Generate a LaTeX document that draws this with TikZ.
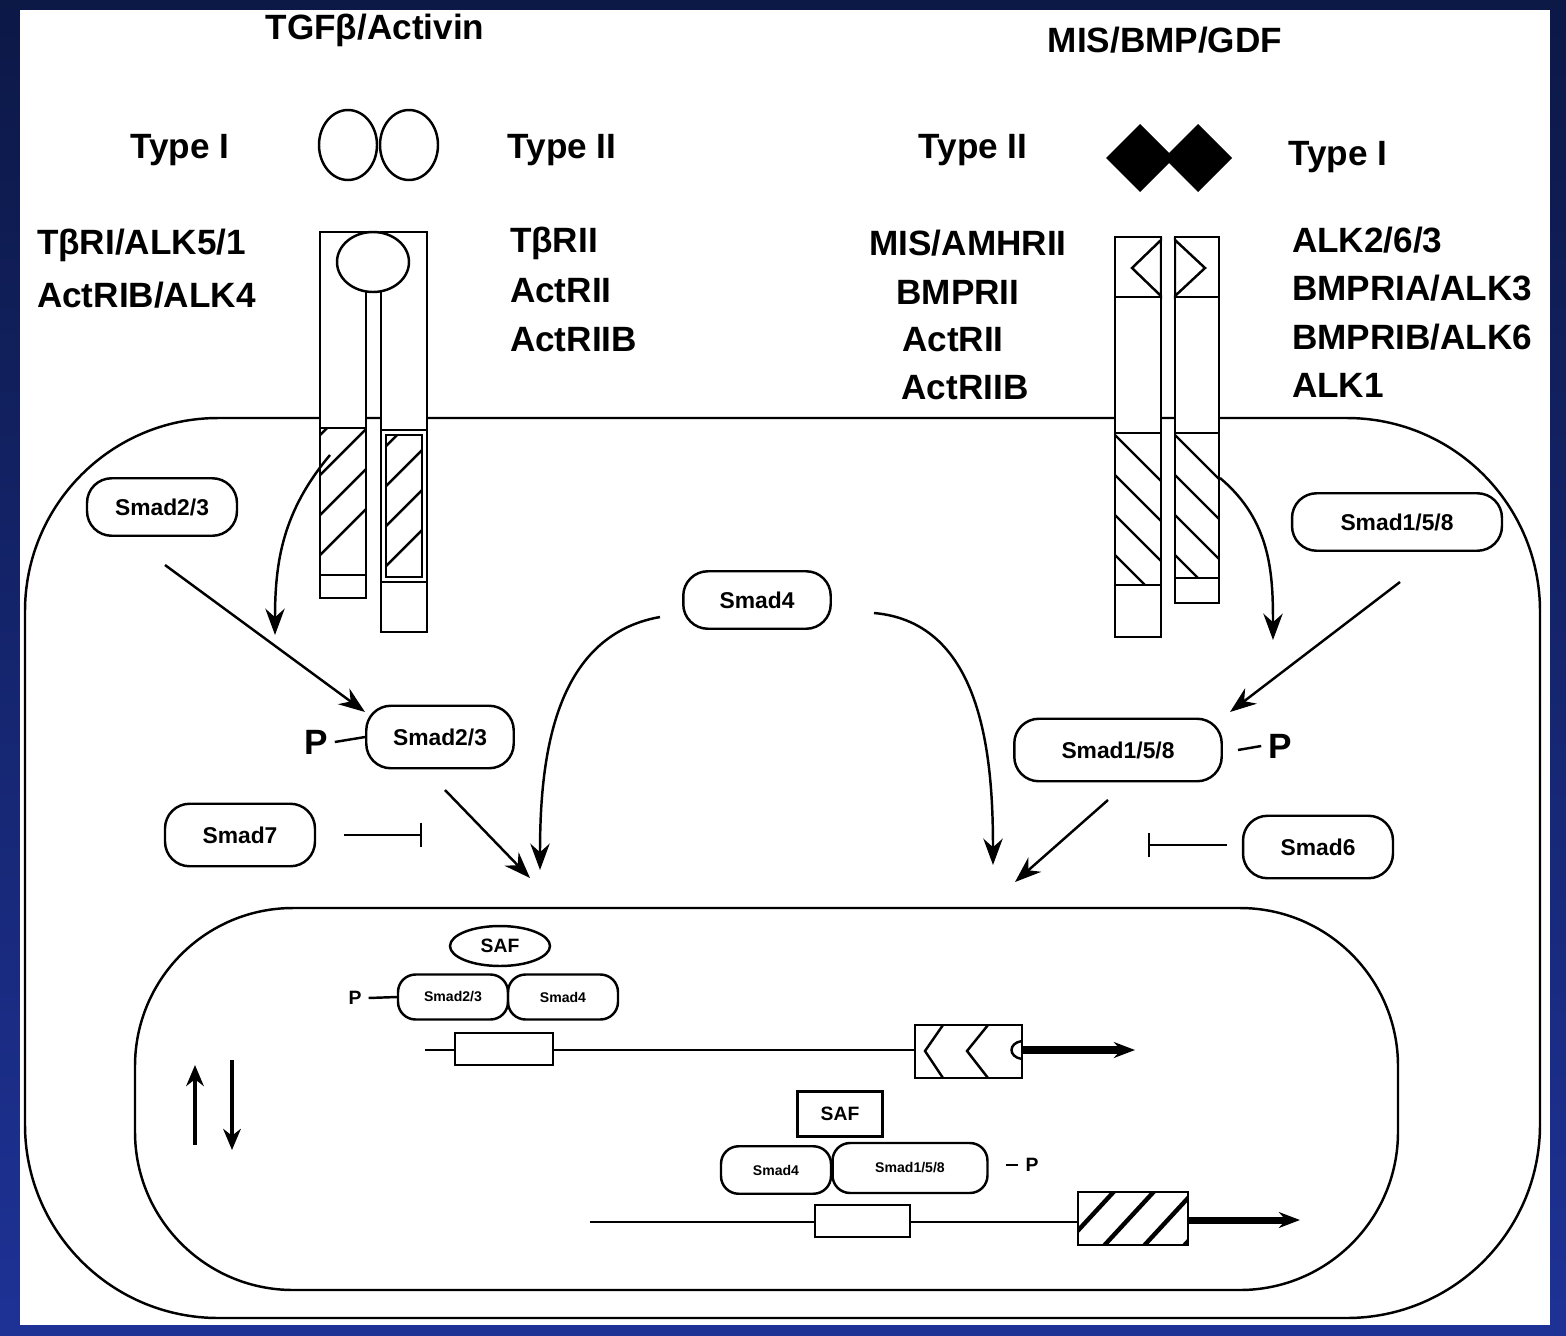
\documentclass[tikz,border=0pt]{standalone}
\usepackage{fontspec}
\setmainfont{Liberation Sans}
\usetikzlibrary{arrows.meta,calc,shapes.geometric}
\definecolor{navytop}{RGB}{12,24,70}
\definecolor{navybot}{RGB}{30,50,150}
\tikzset{
  every picture/.style={line width=1.4pt},
  lbl/.style={font=\fontsize{20}{22}\selectfont\bfseries},
  smad/.style={draw,rounded corners=14pt,font=\fontsize{13}{15}\selectfont\bfseries,minimum height=1.15cm,inner xsep=2pt},
  smads/.style={draw,rounded corners=10pt,font=\fontsize{8}{9}\selectfont\bfseries,minimum height=0.9cm,inner xsep=1pt},
  recp/.style={draw,fill=white},
  arr/.style={-{Stealth[length=15pt,width=11pt]}},
  inh/.style={-{Bar[width=14pt]}},
  big/.style={-{Stealth[length=12pt,width=9pt]},line width=4pt},
}
\begin{document}
\begin{tikzpicture}[x=0.02cm,y=-0.02cm]
\useasboundingbox (0,0) rectangle (1566,1336);
\shade[top color=navytop,bottom color=navybot] (0,0) rectangle (1566,1336);
\fill[white] (20,10) rectangle (1550,1325);
% cell and nucleus
\draw[rounded corners=110] (25,418) rectangle (1540,1318);
\draw[rounded corners=90] (135,908) rectangle (1398,1290);
% headings
\node[lbl] (tgf) at (375,30) {TGFβ/Activin};
\node[lbl] (mis) at (1165,40) {MIS/BMP/GDF};
\node[lbl] (t1l) at (180,150) {Type I};
\node[lbl] (t2l) at (562,150) {Type II};
\node[lbl] (t2r) at (973,150) {Type II};
\node[lbl] (t1r) at (1338,157) {Type I};
% ligands
\draw (348,145) ellipse (29 and 35);
\draw (409,145) ellipse (29 and 35);
\fill (1106,158) -- (1140,124) -- (1174,158) -- (1140,192) -- cycle;
\fill (1164,158) -- (1198,124) -- (1232,158) -- (1198,192) -- cycle;
% receptor labels
\node[lbl,anchor=west] (a1) at (30,245) {TβRI/ALK5/1};
\node[lbl,anchor=west] (a2) at (30,295) {ActRIB/ALK4};
\node[lbl,anchor=west] (b1) at (503,243) {TβRII};
\node[lbl,anchor=west] (b2) at (503,291) {ActRII};
\node[lbl,anchor=west] (b3) at (503,340) {ActRIIB};
\node[lbl] (c1) at (968,243) {MIS/AMHRII};
\node[lbl] (c2) at (958,292) {BMPRII};
\node[lbl] (c3) at (953,340) {ActRII};
\node[lbl] (c4) at (965,388) {ActRIIB};
\node[lbl,anchor=west] (d1) at (1285,240) {ALK2/6/3};
\node[lbl,anchor=west] (d2) at (1285,288) {BMPRIA/ALK3};
\node[lbl,anchor=west] (d3) at (1285,337) {BMPRIB/ALK6};
\node[lbl,anchor=west] (d4) at (1285,385) {ALK1};
% left receptors
\draw[recp] (320,232) rectangle (366,598);
\draw[recp] (381,232) rectangle (427,632);
\draw (320,428) -- (366,428) (320,575) -- (366,575);
\draw (381,430) -- (427,430) (381,582) -- (427,582);
\begin{scope}
\clip (320,428) rectangle (366,575);
\foreach \i in {0,40,...,240} \draw (300,575-\i) -- (380,495-\i);
\end{scope}
\begin{scope}
\clip (386,435) rectangle (422,577);
\foreach \i in {0,40,...,240} \draw (370,582-\i) -- (450,502-\i);
\end{scope}
\draw (386,435) rectangle (422,577);
\draw[fill=white] (373,262) ellipse (36 and 30);
% right receptors
\draw[recp] (1115,237) rectangle (1161,637);
\draw[recp] (1175,237) rectangle (1219,603);
\draw[fill=white] (1161,240) -- (1132,268) -- (1161,296) -- cycle;
\draw[fill=white] (1175,240) -- (1205,268) -- (1175,296) -- cycle;
\fill[white] (1162,241) rectangle (1174,295);
\draw (1115,297) -- (1161,297) (1175,297) -- (1219,297);
\draw (1115,433) -- (1161,433) (1115,585) -- (1161,585);
\draw (1175,433) -- (1219,433) (1175,578) -- (1219,578);
\begin{scope}
\clip (1115,433) rectangle (1161,585);
\foreach \i in {0,40,...,240} \draw (1100,420+\i) -- (1180,500+\i);
\end{scope}
\begin{scope}
\clip (1175,433) rectangle (1219,578);
\foreach \i in {0,40,...,240} \draw (1160,420+\i) -- (1240,500+\i);
\end{scope}
% Smads
\node[smad,minimum width=3cm] (s23a) at (162,507) {Smad2/3};
\node[smad,minimum width=4.2cm] (s158a) at (1397,522) {Smad1/5/8};
\node[smad,minimum width=2.95cm] (s4) at (757,600) {Smad4};
\node[smad,minimum width=2.95cm,minimum height=1.25cm] (s23p) at (440,737) {Smad2/3};
\node[lbl] (p1) at (316,742) {P};
\draw (p1.east) -- (s23p.west);
\node[smad,minimum width=4.15cm,minimum height=1.25cm] (s158p) at (1118,750) {Smad1/5/8};
\node[lbl] (p2) at (1280,746) {P};
\draw (s158p.east) ++(15,0) -- (p2.west);
\node[smad,minimum width=3cm,minimum height=1.25cm] (s7) at (240,835) {Smad7};
\node[smad,minimum width=3cm,minimum height=1.25cm] (s6) at (1318,847) {Smad6};
\coordinate (i7) at (422,835);
\coordinate (i6) at (1148,845);
\draw[inh] ($(s7.east)+(28,0)$) -- (i7);
\draw[inh] ($(s6.west)+(-15,-2)$) -- (i6);
% arrows
\coordinate (tl) at (275,635);
\coordinate (tr) at (1273,640);
\coordinate (n1) at (365,712);
\coordinate (n2) at (1230,712);
\coordinate (nl) at (530,878);
\coordinate (nl2) at (540,870);
\coordinate (nr) at (993,865);
\coordinate (nr2) at (1015,882);
\draw[arr] (330,455) to[out=230,in=90] (tl);
\draw[arr] (1220,478) to[out=-40,in=90] (tr);
\draw[arr] (165,565) -- (n1);
\draw[arr] (1400,582) -- (n2);
\draw[arr] (445,790) -- (nl);
\draw[arr] (1108,800) -- (nr2);
\draw[arr] ($(s4.west)+(-22,17)$) to[out=190,in=90] (nl2);
\draw[arr] ($(s4.east)+(42,13)$) to[out=-5,in=90] (nr);
% nucleus contents upper gene
\node[draw,ellipse,minimum width=2cm,minimum height=0.8cm,font=\fontsize{11}{12}\selectfont\bfseries] (saf1) at (500,946) {SAF};
\node[smads,minimum width=2.2cm] (n23) at (453,997) {Smad2/3};
\node[smads,minimum width=2.2cm] (n4) at (563,997) {Smad4};
\node[font=\fontsize{11}{12}\selectfont\bfseries] (p3) at (355,998) {P};
\draw (p3.east) -- (n23.west);
\draw (425,1050) -- (915,1050);
\draw[fill=white] (455,1033) rectangle (553,1065);
\draw (915,1025) rectangle (1022,1078);
\draw (943,1025) -- (925,1051) -- (943,1078) (988,1025) -- (967,1051) -- (988,1078);
\draw (1022,1041) .. controls (1008,1043) and (1008,1057) .. (1022,1059);
\coordinate (g1) at (1135,1050);
\draw[big] (1022,1050) -- (g1);
% up/down
\coordinate (u1) at (195,1145);
\coordinate (u2) at (195,1065);
\coordinate (d1a) at (232,1060);
\coordinate (d2a) at (232,1150);
\draw[line width=2.5pt,-{Stealth[length=12pt,width=10pt]}] (u1) -- (u2);
\draw[line width=2.5pt,-{Stealth[length=12pt,width=10pt]}] (d1a) -- (d2a);
% lower gene
\node[draw,minimum width=1.7cm,minimum height=0.9cm,font=\fontsize{11}{12}\selectfont\bfseries] (saf2) at (840,1114) {SAF};
\node[smads,minimum width=2.2cm,minimum height=0.95cm] (m4) at (776,1170) {Smad4};
\node[smads,minimum width=3.1cm,minimum height=1cm] (m158) at (910,1168) {Smad1/5/8};
\node[font=\fontsize{11}{12}\selectfont\bfseries] (p4) at (1032,1165) {P};
\draw (p4.west) -- ++(-12,0);
\draw (590,1222) -- (1078,1222);
\draw[fill=white] (815,1205) rectangle (910,1237);
\begin{scope}
\clip (1078,1192) rectangle (1188,1245);
\foreach \i in {0,40,...,200} \draw[line width=2.5pt] (1060+\i,1250) -- (1120+\i,1185);
\end{scope}
\draw (1078,1192) rectangle (1188,1245);
\coordinate (g2) at (1300,1220);
\draw[big] (1188,1220) -- (g2);
\end{tikzpicture}
\end{document}
